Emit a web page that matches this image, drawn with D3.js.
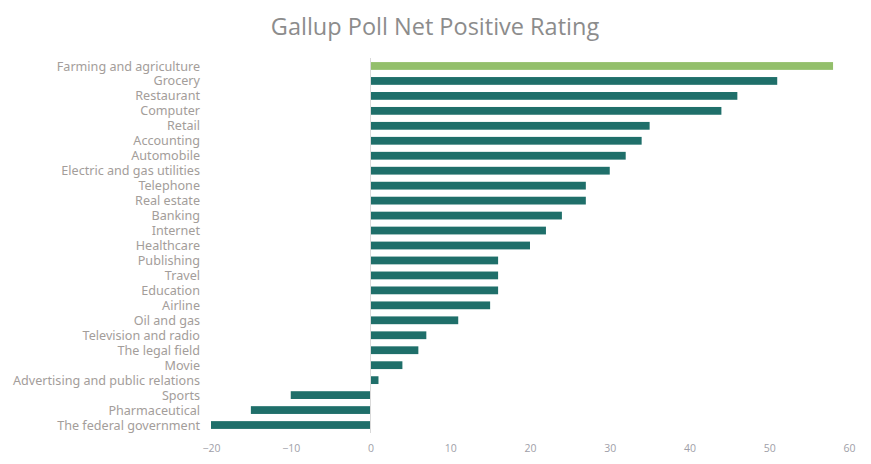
<!DOCTYPE html>
<html>
<head>
<meta charset="utf-8">
<script src="https://cdn.jsdelivr.net/npm/d3@7.9.0/dist/d3.min.js"></script>
<style>
  body { margin: 0; background: #fff; }
  svg { display: block; }
</style>
</head>
<body>
<svg id="chart" width="871" height="464"></svg>
<script>
const categories = [
  'Farming and agriculture', 'Grocery', 'Restaurant', 'Computer', 'Retail',
  'Accounting', 'Automobile', 'Electric and gas utilities', 'Telephone',
  'Real estate', 'Banking', 'Internet', 'Healthcare', 'Publishing', 'Travel',
  'Education', 'Airline', 'Oil and gas', 'Television and radio',
  'The legal field', 'Movie', 'Advertising and public relations', 'Sports',
  'Pharmaceutical', 'The federal government'
];
const netRating = [58, 51, 46, 44, 35, 34, 32, 30, 27, 27, 24, 22, 20, 16, 16, 16, 15, 11, 7, 6, 4, 1, -10, -15, -20];
const xTicks = [-20, -10, 0, 10, 20, 30, 40, 50, 60];

const svg = d3.select('#chart');

// title
svg.append('text')
    .attr('x', 435)
    .attr('y', 35)
    .attr('text-anchor', 'middle')
    .attr('font-family', 'Open Sans, sans-serif')
    .attr('font-size', 23.5)
    .attr('fill', '#8c8c8c')
    .text('Gallup Poll Net Positive Rating');

const x = d3.scaleLinear().domain([-20, 60]).range([211, 849]);
const y = d3.scaleBand().domain(categories).range([58.5, 432.5]).paddingInner(0.48).paddingOuter(0.24);

// bars
svg.append('g')
  .selectAll('rect')
  .data(categories)
  .join('rect')
    .attr('x', (d, i) => x(Math.min(0, netRating[i])))
    .attr('y', d => y(d))
    .attr('width', (d, i) => Math.abs(x(netRating[i]) - x(0)))
    .attr('height', y.bandwidth())
    .attr('fill', (d, i) => i === 0 ? '#93bf6b' : '#1f6f6a');

// zero line
svg.append('line')
    .attr('x1', x(0)).attr('x2', x(0))
    .attr('y1', 58).attr('y2', 433)
    .attr('stroke', '#d9d9d9')
    .attr('stroke-width', 1);

// category labels
svg.append('g')
  .selectAll('text')
  .data(categories)
  .join('text')
    .attr('x', 200)
    .attr('y', d => y(d) + y.bandwidth() / 2)
    .attr('dy', '0.36em')
    .attr('text-anchor', 'end')
    .attr('font-family', 'Noto Sans, sans-serif')
    .attr('font-size', 12.6)
    .attr('fill', '#a39d9a')
    .text(d => d);

// x axis labels
const xAxis = d3.axisBottom(x).tickValues(xTicks).tickSize(0).tickPadding(0);
svg.append('g')
    .attr('transform', 'translate(0,445)')
    .call(xAxis)
    .call(g => g.select('.domain').remove())
    .call(g => g.selectAll('text')
        .attr('font-family', 'Open Sans, sans-serif')
        .attr('font-size', 10.5)
        .attr('fill', '#a0a0a8'));
</script>
</body>
</html>
